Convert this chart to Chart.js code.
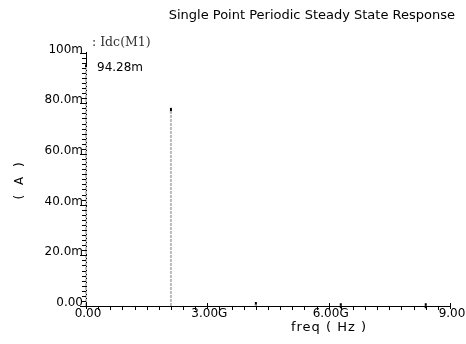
<!DOCTYPE html>
<html><head><meta charset="utf-8">
<script src="https://cdn.jsdelivr.net/npm/chart.js@4"></script>
<style>html,body{margin:0;padding:0;background:#fff}canvas{display:block}</style>
</head><body>
<canvas id="c" width="466" height="344"></canvas>
<script>
const titleText = 'Single Point Periodic Steady State Response';
const seriesName = ': Idc(M1)';
const freqHz = [0, 2.1e9, 4.2e9, 6.3e9, 8.4e9];
const idcA = [0.09428, 0.0772, 0.0006, 0.0001, 0.0001];
const xTickValues = [0, 3e9, 6e9, 9e9];
const xTickLabels = ['0.00', '3.00G', '6.00G', '9.00'];
const yTickValues = [0, 0.02, 0.04, 0.06, 0.08, 0.1];
const yTickLabels = ['0.00', '20.0m', '40.0m', '60.0m', '80.0m', '100m'];
const xTitle = 'freq ( Hz )';
const yTitle = '( A )';
const markerLabel = (idcA[0] * 1000).toFixed(2) + 'm';

const SANS = '"DejaVu Sans", sans-serif';

const stemData = [];
freqHz.forEach((f, i) => {
  stemData.push({x: f, y: 0}, {x: f, y: idcA[i]}, {x: f, y: null});
});
const pointData = freqHz.map((f, i) => ({x: f, y: idcA[i]}));

const decor = {
  id: 'decor',
  afterDraw(chart) {
    const {ctx, scales: {x, y}, chartArea: a} = chart;
    ctx.save();
    ctx.strokeStyle = '#000';
    ctx.lineWidth = 1;
    ctx.beginPath();
    for (let i = 0; i <= 50; i++) {
      const py = Math.round(y.getPixelForValue(i * 0.002)) + 0.5;
      const major = i % 10 === 0;
      ctx.moveTo(a.left - (major ? 6 : 4), py);
      ctx.lineTo(a.left + (major ? 1 : 0), py);
    }
    for (let i = 0; i <= 30; i++) {
      const px = Math.round(x.getPixelForValue(i * 0.3e9)) + 0.5;
      const major = i % 10 === 0;
      ctx.moveTo(px, a.bottom + (major ? -3 : 0));
      ctx.lineTo(px, a.bottom + (major ? 3 : 4));
    }
    ctx.stroke();
    ctx.fillStyle = '#000';
    ctx.font = '12px ' + SANS;
    ctx.textBaseline = 'middle';
    ctx.textAlign = 'left';
    ctx.fillText(markerLabel, a.left + 11, y.getPixelForValue(idcA[0]) + 1);
    ctx.font = '12.5px "DejaVu Serif", serif';
    ctx.fillStyle = '#333';
    ctx.fillText(seriesName, a.left + 6, a.top - 10);
    ctx.font = '13px ' + SANS;
    ctx.fillStyle = '#000';
    ctx.textAlign = 'center';
    ctx.letterSpacing = '1px';
    ctx.fillText(xTitle, 329, 328);
    ctx.translate(20, (a.top + a.bottom) / 2);
    ctx.rotate(-Math.PI / 2);
    ctx.letterSpacing = '3px';
    ctx.font = '12px ' + SANS;
    ctx.fillText(yTitle, 0, 0);
    ctx.restore();
  }
};

new Chart(document.getElementById('c'), {
  type: 'scatter',
  data: {
    datasets: [
      {
        label: 'stems',
        data: stemData,
        showLine: true,
        spanGaps: false,
        borderColor: '#bbbbbb',
        borderWidth: 2,
        borderDash: [3, 1],
        pointRadius: 0,
        clip: false
      },
      {
        label: seriesName,
        data: pointData,
        showLine: false,
        pointStyle: 'line',
        rotation: 90,
        pointRadius: 2.5,
        borderColor: '#000',
        backgroundColor: '#000',
        pointBorderWidth: 2,
        clip: false
      }
    ]
  },
  plugins: [decor],
  options: {
    responsive: false,
    animation: false,
    devicePixelRatio: 1,
    layout: {padding: {top: 0, right: 11, bottom: 0, left: 0}},
    plugins: {
      legend: {display: false},
      tooltip: {enabled: false},
      title: {
        display: true,
        text: titleText,
        align: 'end',
        color: '#000',
        font: {family: SANS, size: 13, weight: 'normal'},
        padding: {top: 8, bottom: 29}
      }
    },
    scales: {
      x: {
        type: 'linear',
        min: 0, max: 9e9,
        z: 1,
        afterBuildTicks: s => { s.ticks = xTickValues.map(v => ({value: v})); },
        afterFit: s => { s.height = 38; s.paddingRight = 16; },
        grid: {display: false, drawTicks: false},
        border: {display: true, color: '#000', width: 1},
        ticks: {
          callback: (v, i) => xTickLabels[i],
          color: '#000',
          font: {family: SANS, size: 12},
          padding: 1,
          labelOffset: 2,
          maxRotation: 0,
          autoSkip: false
        }
      },
      y: {
        type: 'linear',
        min: 0, max: 0.1,
        z: 1,
        afterBuildTicks: s => { s.ticks = yTickValues.map(v => ({value: v})); },
        afterFit: s => { s.width = 86; },
        grid: {display: false, drawTicks: false},
        border: {display: true, color: '#000', width: 1},
        ticks: {
          callback: (v, i) => yTickLabels[i],
          color: '#000',
          font: {family: SANS, size: 12},
          padding: 3,
          labelOffset: -3,
          autoSkip: false
        }
      }
    }
  }
});
</script>
</body></html>
